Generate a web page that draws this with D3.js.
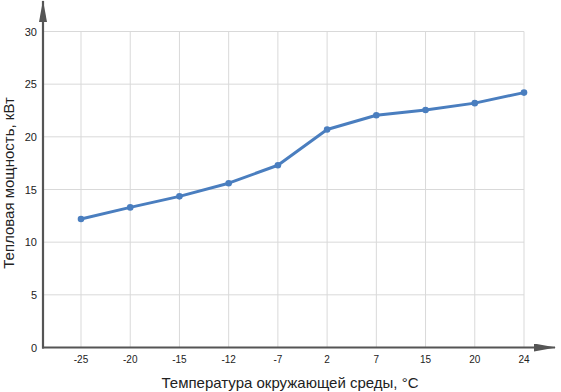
<!DOCTYPE html>
<html>
<head>
<meta charset="utf-8">
<script src="https://cdn.jsdelivr.net/npm/d3@7"></script>
<style>
  body { margin: 0; background: #fff; }
  text { font-family: "Liberation Sans", Arial, sans-serif; fill: #222; }
</style>
</head>
<body>
<script>
// outdoor temperature categories and heat output
var temps  = ["-25", "-20", "-15", "-12", "-7", "2", "7", "15", "20", "24"];
var power  = [12.2, 13.3, 14.35, 15.6, 17.3, 20.7, 22.05, 22.55, 23.2, 24.2];
var yTicks = [0, 5, 10, 15, 20, 25, 30];

var width   = 561,
    height  = 392,
    plotL   = 43,
    plotR   = 524,
    plotT   = 31.5,
    plotB   = 347.5;

var svg = d3.select("body").append("svg")
    .attr("width", width)
    .attr("height", height);

var x = d3.scalePoint().domain(temps).range([81, plotR]);
var y = d3.scaleLinear().domain([0, 30]).range([plotB, plotT]);

// grid
svg.append("g").selectAll("line")
  .data(yTicks.slice(1))
  .enter().append("line")
  .attr("x1", plotL).attr("x2", plotR)
  .attr("y1", function(d) { return y(d); })
  .attr("y2", function(d) { return y(d); })
  .attr("stroke", "#d9d9d9").attr("stroke-width", 1);

svg.append("g").selectAll("line")
  .data(temps)
  .enter().append("line")
  .attr("x1", function(d) { return x(d); })
  .attr("x2", function(d) { return x(d); })
  .attr("y1", plotT).attr("y2", plotB)
  .attr("stroke", "#d9d9d9").attr("stroke-width", 1);

// axes with arrows
var defs = svg.append("defs");
defs.append("marker")
  .attr("id", "arrow")
  .attr("viewBox", "0 0 22 8")
  .attr("refX", 21).attr("refY", 4)
  .attr("markerWidth", 22).attr("markerHeight", 8)
  .attr("markerUnits", "userSpaceOnUse")
  .attr("orient", "auto")
  .append("path")
  .attr("d", "M0,0 L22,4 L0,8 Z")
  .attr("fill", "#555");

svg.append("line")
  .attr("x1", plotL).attr("x2", plotL)
  .attr("y1", plotB + 1).attr("y2", 1)
  .attr("stroke", "#555").attr("stroke-width", 2.2)
  .attr("marker-end", "url(#arrow)");

svg.append("line")
  .attr("x1", plotL - 1).attr("x2", 555)
  .attr("y1", plotB).attr("y2", plotB)
  .attr("stroke", "#555").attr("stroke-width", 2.2)
  .attr("marker-end", "url(#arrow)");

// tick labels
svg.append("g").selectAll("text")
  .data(yTicks)
  .enter().append("text")
  .attr("x", 37)
  .attr("y", function(d) { return y(d) + 4; })
  .attr("text-anchor", "end")
  .attr("font-size", 11)
  .text(function(d) { return d; });

svg.append("g").selectAll("text")
  .data(temps)
  .enter().append("text")
  .attr("x", function(d) { return x(d); })
  .attr("y", 363)
  .attr("text-anchor", "middle")
  .attr("font-size", 10)
  .text(function(d) { return d; });

// titles
svg.append("text")
  .attr("x", 290).attr("y", 388)
  .attr("text-anchor", "middle")
  .attr("font-size", 15)
  .text("Температура окружающей среды, °C");

svg.append("text")
  .attr("transform", "translate(14,183) rotate(-90)")
  .attr("text-anchor", "middle")
  .attr("font-size", 15)
  .text("Тепловая мощность, кВт");

// series
var line = d3.line()
  .x(function(d, i) { return x(temps[i]); })
  .y(function(d) { return y(d); });

svg.append("path")
  .datum(power)
  .attr("d", line)
  .attr("fill", "none")
  .attr("stroke", "#4a7ebf")
  .attr("stroke-width", 3)
  .attr("stroke-linejoin", "round");

svg.append("g").selectAll("circle")
  .data(power)
  .enter().append("circle")
  .attr("cx", function(d, i) { return x(temps[i]); })
  .attr("cy", function(d) { return y(d); })
  .attr("r", 3.3)
  .attr("fill", "#4a7ebf");
</script>
</body>
</html>
